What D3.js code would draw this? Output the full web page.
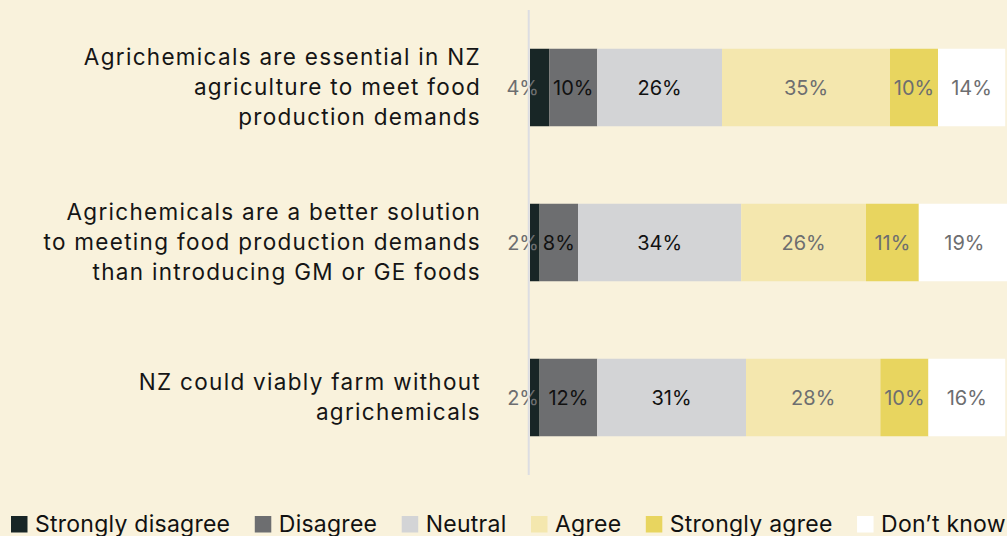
<!DOCTYPE html>
<html>
<head>
<meta charset="utf-8">
<script src="https://cdn.jsdelivr.net/npm/d3@7"></script>
<style>
  html, body { margin: 0; padding: 0; background: #f9f2dc; }
  svg { display: block; font-family: Inter, "Noto Sans", sans-serif; }
</style>
</head>
<body>
<div id="chart"></div>
<script>
(function() {

const width = 1007,
height = 536;

// data
const categories = [
  "Agrichemicals are essential in NZ\nagriculture to meet food\nproduction demands",
  "Agrichemicals are a better solution\nto meeting food production demands\nthan introducing GM or GE foods",
  "NZ could viably farm without\nagrichemicals"
];
const seriesNames = ["Strongly disagree", "Disagree", "Neutral", "Agree", "Strongly agree", "Don\u2019t know"];
const stronglyDisagree = [4, 2, 2];
const disagree = [10, 8, 12];
const neutral = [26, 34, 31];
const agree = [35, 26, 28];
const stronglyAgree = [10, 11, 10];
const dontKnow = [14, 19, 16];

const seriesValues = [stronglyDisagree, disagree, neutral, agree, stronglyAgree, dontKnow];
const colors = ["#182626", "#6d6e70", "#d3d4d6", "#f4e7ae", "#e8d55f", "#ffffff"];
const labelColors = ["#6d6e70", "#111111", "#111111", "#6d6e70", "#6d6e70", "#6d6e70"];

const rows = categories.map((c, i) => {
  const r = { category: c };
  seriesNames.forEach((s, j) => r[s] = seriesValues[j][i]);
  return r;
});

const stacked = d3.stack().keys(seriesNames)(rows);

const svg = d3.select("#chart")
  .append("svg")
  .attr("width", width)
  .attr("height", height)
  .attr("viewBox", [0, 0, width, height]);

const x = d3.scaleLinear()
  .domain([0, 100])
  .range([530, 1010]);

const y = d3.scaleBand()
  .domain(categories)
  .range([10, 475])
  .paddingInner(0.5)
  .paddingOuter(0.25);

const color = d3.scaleOrdinal(seriesNames, colors);

// bars
const layer = svg.append("g")
  .selectAll("g")
  .data(stacked)
  .join("g")
  .attr("fill", d => color(d.key));

layer.selectAll("rect")
  .data(d => d)
  .join("rect")
  .attr("x", d => x(d[0]))
  .attr("y", d => y(d.data.category))
  .attr("width", d => x(d[1]) - x(d[0]))
  .attr("height", y.bandwidth());

// segment labels (first one sits over the axis, end-anchored)
svg.append("g")
  .selectAll("g")
  .data(stacked)
  .join("g")
  .attr("fill", (d, i) => labelColors[i])
  .each(function(s, si) {
    d3.select(this).selectAll("text")
      .data(s)
      .join("text")
      .attr("x", d => si === 0 ? x(0) + 9 : (x(d[0]) + x(d[1])) / 2)
      .attr("y", d => y(d.data.category) + y.bandwidth() / 2)
      .attr("dy", "0.36em")
      .attr("text-anchor", si === 0 ? "end" : "middle")
      .style("font-size", "20px")
      .text(d => (d[1] - d[0]) + "%");
  });

// axis line
svg.append("line")
  .attr("x1", x(0) - 1.3).attr("x2", x(0) - 1.3)
  .attr("y1", y.range()[0]).attr("y2", y.range()[1])
  .attr("stroke", "#dcdde2")
  .attr("stroke-width", 2);

// category labels
const lineH = 30;
svg.append("g")
  .selectAll("text")
  .data(categories)
  .join("text")
  .attr("text-anchor", "end")
  .attr("fill", "#151515")
  .style("font-size", "22.5px")
  .style("letter-spacing", "1.3px")
  .each(function(d) {
    const lines = d.split("\n");
    const cy = y(d) + y.bandwidth() / 2;
    const t = d3.select(this);
    lines.forEach((l, i) => {
      t.append("tspan")
        .attr("x", 481)
        .attr("y", cy + (i - (lines.length - 1) / 2) * lineH)
        .attr("dy", "0.32em")
        .text(l);
    });
  });

// legend
const legend = svg.append("g");
let lx = 11;
seriesNames.forEach((s, i) => {
  const g = legend.append("g").attr("transform", `translate(${lx},0)`);
  g.append("rect")
    .attr("x", 0).attr("y", 516)
    .attr("width", 16.5).attr("height", 16.5)
    .attr("fill", colors[i]);
  const t = g.append("text")
    .attr("x", 24).attr("y", 532)
    .attr("fill", "#111")
    .style("font-size", "23px")
    .style("letter-spacing", "0.25px")
    .text(s);
  lx += 24 + t.node().getComputedTextLength() + 24.5;
});

})();
</script>
</body>
</html>
